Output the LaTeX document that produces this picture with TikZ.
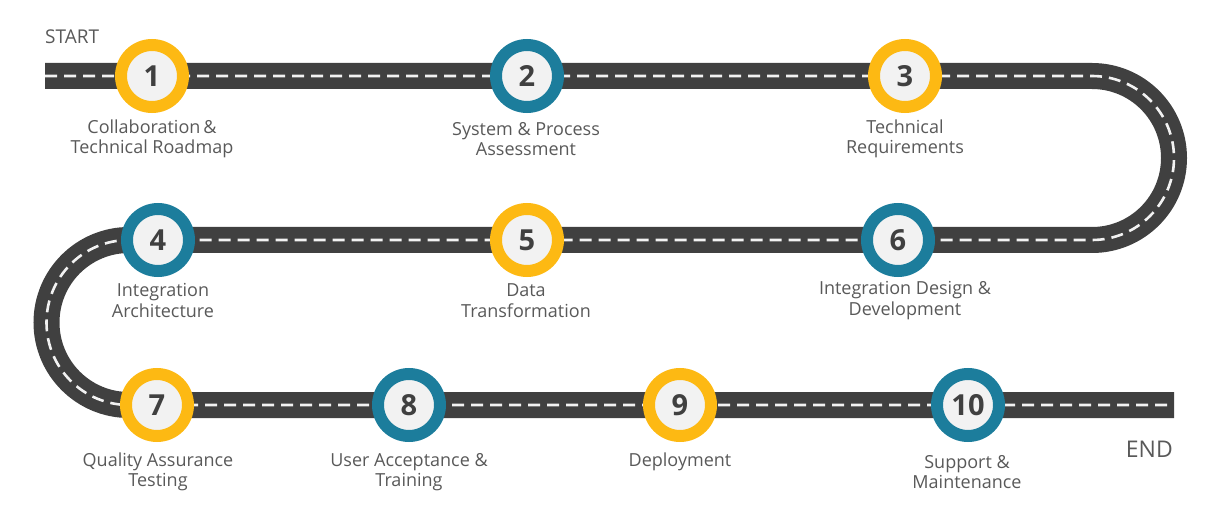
\documentclass[tikz,border=0pt]{standalone}
\usepackage{fontspec}
\setmainfont{Open Sans}
\definecolor{roadc}{HTML}{404040}
\definecolor{dashc}{HTML}{F2F2F2}
\definecolor{ylw}{HTML}{FDB913}
\definecolor{blu}{HTML}{1C7D9C}
\definecolor{innr}{HTML}{F2F2F2}
\definecolor{txt}{HTML}{595959}
\tikzset{
  stepring/.style={circle, line width=12pt, minimum size=62pt, inner sep=0pt, fill=innr,
    font=\fontsize{29}{30}\selectfont\bfseries, text=roadc},
  yelring/.style={stepring, draw=ylw},
  bluring/.style={stepring, draw=blu},
  lbl/.style={align=center, text=txt, font=\fontsize{18}{20.5}\selectfont, inner sep=0pt},
  road/.style={line width=26pt, draw=roadc},
  lane/.style={line width=2.6pt, draw=dashc, dash pattern=on 12pt off 7pt},
}
\begin{document}
\begin{tikzpicture}[x=1pt,y=1pt]
\useasboundingbox (0,0) rectangle (1211,515);
% road
\coordinate (rs) at (45,439);
\coordinate (r1) at (1092,439);
\coordinate (r2) at (129,275);
\coordinate (re) at (1174,110);
\draw[road] (rs) -- (r1) arc[start angle=90, end angle=-90, radius=82] -- (r2) arc[start angle=90, end angle=270, radius=82.5] -- (re);
\draw[lane] (rs) -- (r1) arc[start angle=90, end angle=-90, radius=82] -- (r2) arc[start angle=90, end angle=270, radius=82.5] -- (re);
% steps
\node[yelring] (c1) at (152,439) {1};
\node[bluring] (c2) at (527,439) {2};
\node[yelring] (c3) at (905,439) {3};
\node[bluring] (c4) at (158,275) {4};
\node[yelring] (c5) at (527,275) {5};
\node[bluring] (c6) at (898,275) {6};
\node[yelring] (c7) at (157,110) {7};
\node[bluring] (c8) at (409,110) {8};
\node[yelring] (c9) at (680,110) {9};
\node[bluring] (c10) at (968,110) {10};
% labels
\node[lbl] (l1) at (152,376) {Collaboration\,\&\\Technical Roadmap};
\node[lbl] (l2) at (526,376) {System \& Process\\Assessment};
\node[lbl] (l3) at (905,376) {Technical\\Requirements};
\node[lbl] (l4) at (163,214.5) {Integration\\Architecture};
\node[lbl] (l5) at (526,214.5) {Data\\Transformation};
\node[lbl] (l6) at (905,214.5) {Integration Design \&\\Development};
\node[lbl] (l7) at (158,43) {Quality Assurance\\Testing};
\node[lbl] (l8) at (409,43) {User Acceptance \&\\Training};
\node[lbl] (l9) at (680,53) {Deployment};
\node[lbl, anchor=west, font=\fontsize{19}{20}\selectfont] (st) at (45,478) {START};
\node[lbl] (l10) at (967,43) {Support \&\\Maintenance};
\node[lbl, anchor=east, font=\fontsize{23}{24}\selectfont] (en) at (1173,66) {END};
\end{tikzpicture}
\end{document}
